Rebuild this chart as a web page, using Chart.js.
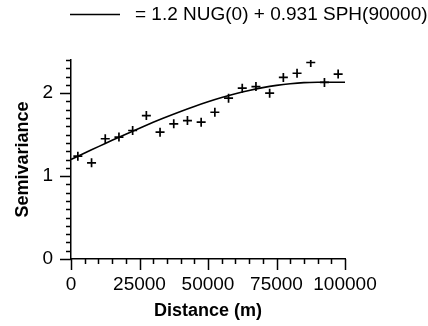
<!DOCTYPE html>
<html>
<head>
<meta charset="utf-8">
<script src="https://cdn.jsdelivr.net/npm/chart.js@4.4.1/dist/chart.umd.min.js"></script>
<style>
  html, body { margin: 0; padding: 0; background: #fff; }
  #wrap { width: 428px; height: 326px; position: relative; }
</style>
</head>
<body>
<div id="wrap"><canvas id="vario" width="428" height="326"></canvas></div>
<script>
// experimental semivariogram points (lag distance in m, semivariance)
const lagDist = [2500, 7500, 12500, 17500, 22500, 27500, 32500, 37500, 42500, 47500,
  52500, 57500, 62500, 67500, 72500, 77500, 82500, 87500, 92500, 97500]
const lagGamma = [1.24, 1.16, 1.45, 1.47, 1.55, 1.73, 1.53, 1.63, 1.67, 1.65,
  1.77, 1.94, 2.06, 2.08, 2.00, 2.19, 2.24, 2.37, 2.13, 2.23]

// fitted model curve, every 5000 m
const modelDist = [0, 5000, 10000, 15000, 20000, 25000, 30000, 35000, 40000, 45000, 50000,
  55000, 60000, 65000, 70000, 75000, 80000, 85000, 90000, 95000, 100000]
const modelGamma = [1.200, 1.278, 1.355, 1.431, 1.505, 1.578, 1.648, 1.716, 1.780, 1.840, 1.896,
  1.947, 1.993, 2.033, 2.067, 2.094, 2.114, 2.127, 2.131, 2.131, 2.131]

const xTicks = [0, 25000, 50000, 75000, 100000]
const yTicks = [0, 1, 2]
const xMinorStep = 5000
const yMinorStep = 0.1
const legendText = '= 1.2 NUG(0) + 0.931 SPH(90000)'

const FONT = '"Liberation Sans", Arial, Helvetica, sans-serif'

// tick marks (major + minor) and the legend line
const axisDecor = {
  id: 'axisDecor',
  afterDraw(chart) {
    const ctx = chart.ctx
    const xs = chart.scales.x, ys = chart.scales.y
    const area = chart.chartArea
    ctx.save()
    ctx.strokeStyle = '#000'
    ctx.lineWidth = 1.5
    ctx.beginPath()
    for (let i = 0; i * xMinorStep <= xs.max + 1; i++) {
      const v = i * xMinorStep
      const px = Math.round(xs.getPixelForValue(v)) + 0.5
      const len = xTicks.includes(v) ? 11 : 5
      ctx.moveTo(px, area.bottom)
      ctx.lineTo(px, area.bottom + len)
    }
    for (let i = 0; i * yMinorStep <= ys.max + 1e-6; i++) {
      const v = Math.round(i * yMinorStep * 10) / 10
      const py = Math.round(ys.getPixelForValue(v)) + 0.5
      const len = yTicks.includes(v) ? 11 : 5
      ctx.moveTo(area.left, py)
      ctx.lineTo(area.left - len, py)
    }
    ctx.stroke()

    // legend
    ctx.lineWidth = 1.5
    ctx.beginPath()
    ctx.moveTo(70, 14.5)
    ctx.lineTo(120, 14.5)
    ctx.stroke()
    ctx.fillStyle = '#000'
    ctx.font = '19px ' + FONT
    ctx.textBaseline = 'middle'
    ctx.textAlign = 'left'
    ctx.fillText(legendText, 135, 15)
    ctx.restore()
  }
}

const ctx = document.getElementById('vario').getContext('2d')
window._varioChart = new Chart(ctx, {
  type: 'scatter',
  data: {
    datasets: [
      {
        label: 'model',
        type: 'line',
        data: modelDist.map((d, i) => ({ x: d, y: modelGamma[i] })),
        borderColor: '#000',
        borderWidth: 1.6,
        pointRadius: 0,
        tension: 0.3,
        fill: false
      },
      {
        label: 'experimental',
        data: lagDist.map((d, i) => ({ x: d, y: lagGamma[i] })),
        pointStyle: 'cross',
        pointRadius: 4.5,
        borderColor: '#000',
        borderWidth: 1.7,
        backgroundColor: '#000'
      }
    ]
  },
  options: {
    responsive: false,
    animation: false,
    devicePixelRatio: 1,
    layout: { padding: { left: 0, top: 60, right: 83, bottom: 0 } },
    plugins: { legend: { display: false }, tooltip: { enabled: false } },
    scales: {
      x: {
        type: 'linear',
        min: 0,
        max: 100000,
        afterBuildTicks: s => { s.ticks = xTicks.map(v => ({ value: v })) },
        afterFit: s => { s.height = 67 },
        grid: { display: false, drawTicks: false },
        border: { display: true, color: '#000', width: 1.5 },
        ticks: { color: '#000', padding: 14, maxRotation: 0, autoSkip: false, font: { family: FONT, size: 19 }, callback: v => String(v) },
        title: { display: true, text: 'Distance (m)', color: '#000', font: { family: FONT, size: 18, weight: 'bold' }, padding: { top: 0, bottom: 4 } }
      },
      y: {
        type: 'linear',
        min: 0,
        max: 2.4,
        afterBuildTicks: s => { s.ticks = yTicks.map(v => ({ value: v })) },
        afterFit: s => { s.width = 71 },
        grid: { display: false, drawTicks: false },
        border: { display: true, color: '#000', width: 1.5 },
        ticks: { color: '#000', padding: 18, font: { family: FONT, size: 19 }, callback: v => String(v) },
        title: { display: true, text: 'Semivariance', color: '#000', font: { family: FONT, size: 18, weight: 'bold' }, padding: { top: 12, bottom: 0 } }
      }
    }
  },
  plugins: [axisDecor]
})
</script>
</body>
</html>
